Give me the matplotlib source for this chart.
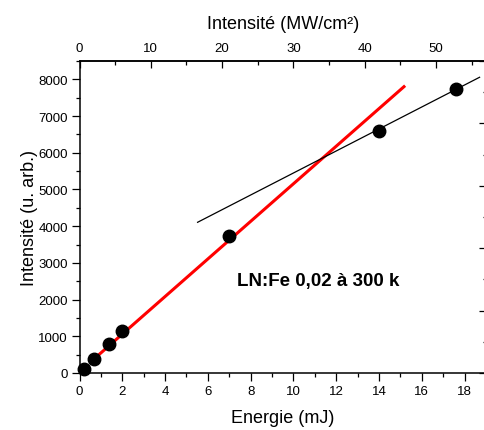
import matplotlib
matplotlib.use("Agg")
import matplotlib.pyplot as plt
from matplotlib.ticker import MultipleLocator, FixedLocator

plt.rcParams['font.family'] = ['Liberation Sans', 'DejaVu Sans']

# Data
energie = [0.2, 0.68, 1.4, 1.97, 7.0, 14.0, 17.6]          # mJ
intensite = [100, 390, 780, 1140, 3720, 6600, 7740]          # u. arb.
fit_red_x = [0.82, 15.22]
fit_red_y = [455, 7828]
fit_black_x = [5.52, 18.7]
fit_black_y = [4106, 8057]
mw_per_mj = 3.0   # top axis conversion: Intensité (MW/cm²) = 3 x Energie (mJ)
top_ticks = [0, 10, 20, 30, 40, 50]
top_minor = [5, 15, 25, 35, 45, 55]
annotation = "LN:Fe 0,02 à 300 k"

W, H = 484, 431
fig = plt.figure(figsize=(W / 100, H / 100), dpi=100)
ax = fig.add_axes([79.5 / W, 1 - 374 / H, (486 - 79.5) / W, (374 - 62) / H])

ax.plot(fit_red_x, fit_red_y, color='#ff0000', lw=2.2, solid_capstyle='butt', zorder=2)
ax.plot(fit_black_x, fit_black_y, color='black', lw=0.9, zorder=2)
ax.plot(energie, intensite, 'o', color='black', ms=9, zorder=3, clip_on=False)

ax.set_xlim(0, 19)
ax.set_ylim(0, 8500)
ax.xaxis.set_major_locator(MultipleLocator(2))
ax.xaxis.set_minor_locator(MultipleLocator(1))
ax.yaxis.set_major_locator(MultipleLocator(1000))
ax.yaxis.set_minor_locator(MultipleLocator(500))
ax.tick_params(axis='both', which='major', direction='out', length=5.5, width=0.9,
               labelsize=9.5, pad=3)
ax.tick_params(axis='both', which='minor', direction='out', length=3, width=0.9)
ax.tick_params(axis='x', which='both', top=False)
ax.tick_params(axis='y', which='both', right=False)
for s in ['left', 'bottom', 'top']:
    ax.spines[s].set_linewidth(1.1)
ax.spines['right'].set_visible(False)

ax.set_xlabel("Energie (mJ)", fontsize=13, labelpad=9)
ax.set_ylabel("Intensité (u. arb.)", fontsize=13, labelpad=0)

# Top axis
sec = ax.secondary_xaxis('top', functions=(lambda e: e * mw_per_mj, lambda i: i / mw_per_mj))
sec.xaxis.set_major_locator(FixedLocator(top_ticks))
sec.xaxis.set_minor_locator(FixedLocator(top_minor))
sec.tick_params(which='major', direction='in', length=5, width=0.9, labelsize=9.5, pad=5)
sec.tick_params(which='minor', direction='in', length=3, width=0.9)
sec.spines['top'].set_linewidth(1.1)
sec.set_xlabel("Intensité (MW/cm²)", fontsize=13, labelpad=10)

# Right axis ticks (inward, unlabeled)
ax2 = ax.twinx()
ax2.set_ylim(0, 5)
ax2.yaxis.set_major_locator(MultipleLocator(1))
ax2.yaxis.set_minor_locator(MultipleLocator(0.5))
ax2.tick_params(which='major', direction='in', length=5, width=0.9, labelright=False)
ax2.tick_params(which='minor', direction='in', length=2.5, width=0.9)
for s in ['left', 'bottom', 'top']:
    ax2.spines[s].set_visible(False)

ax.text(7.37, 2513, annotation, fontsize=13.5, fontweight='bold', va='center', ha='left')

fig.savefig("out.png", dpi=100)
